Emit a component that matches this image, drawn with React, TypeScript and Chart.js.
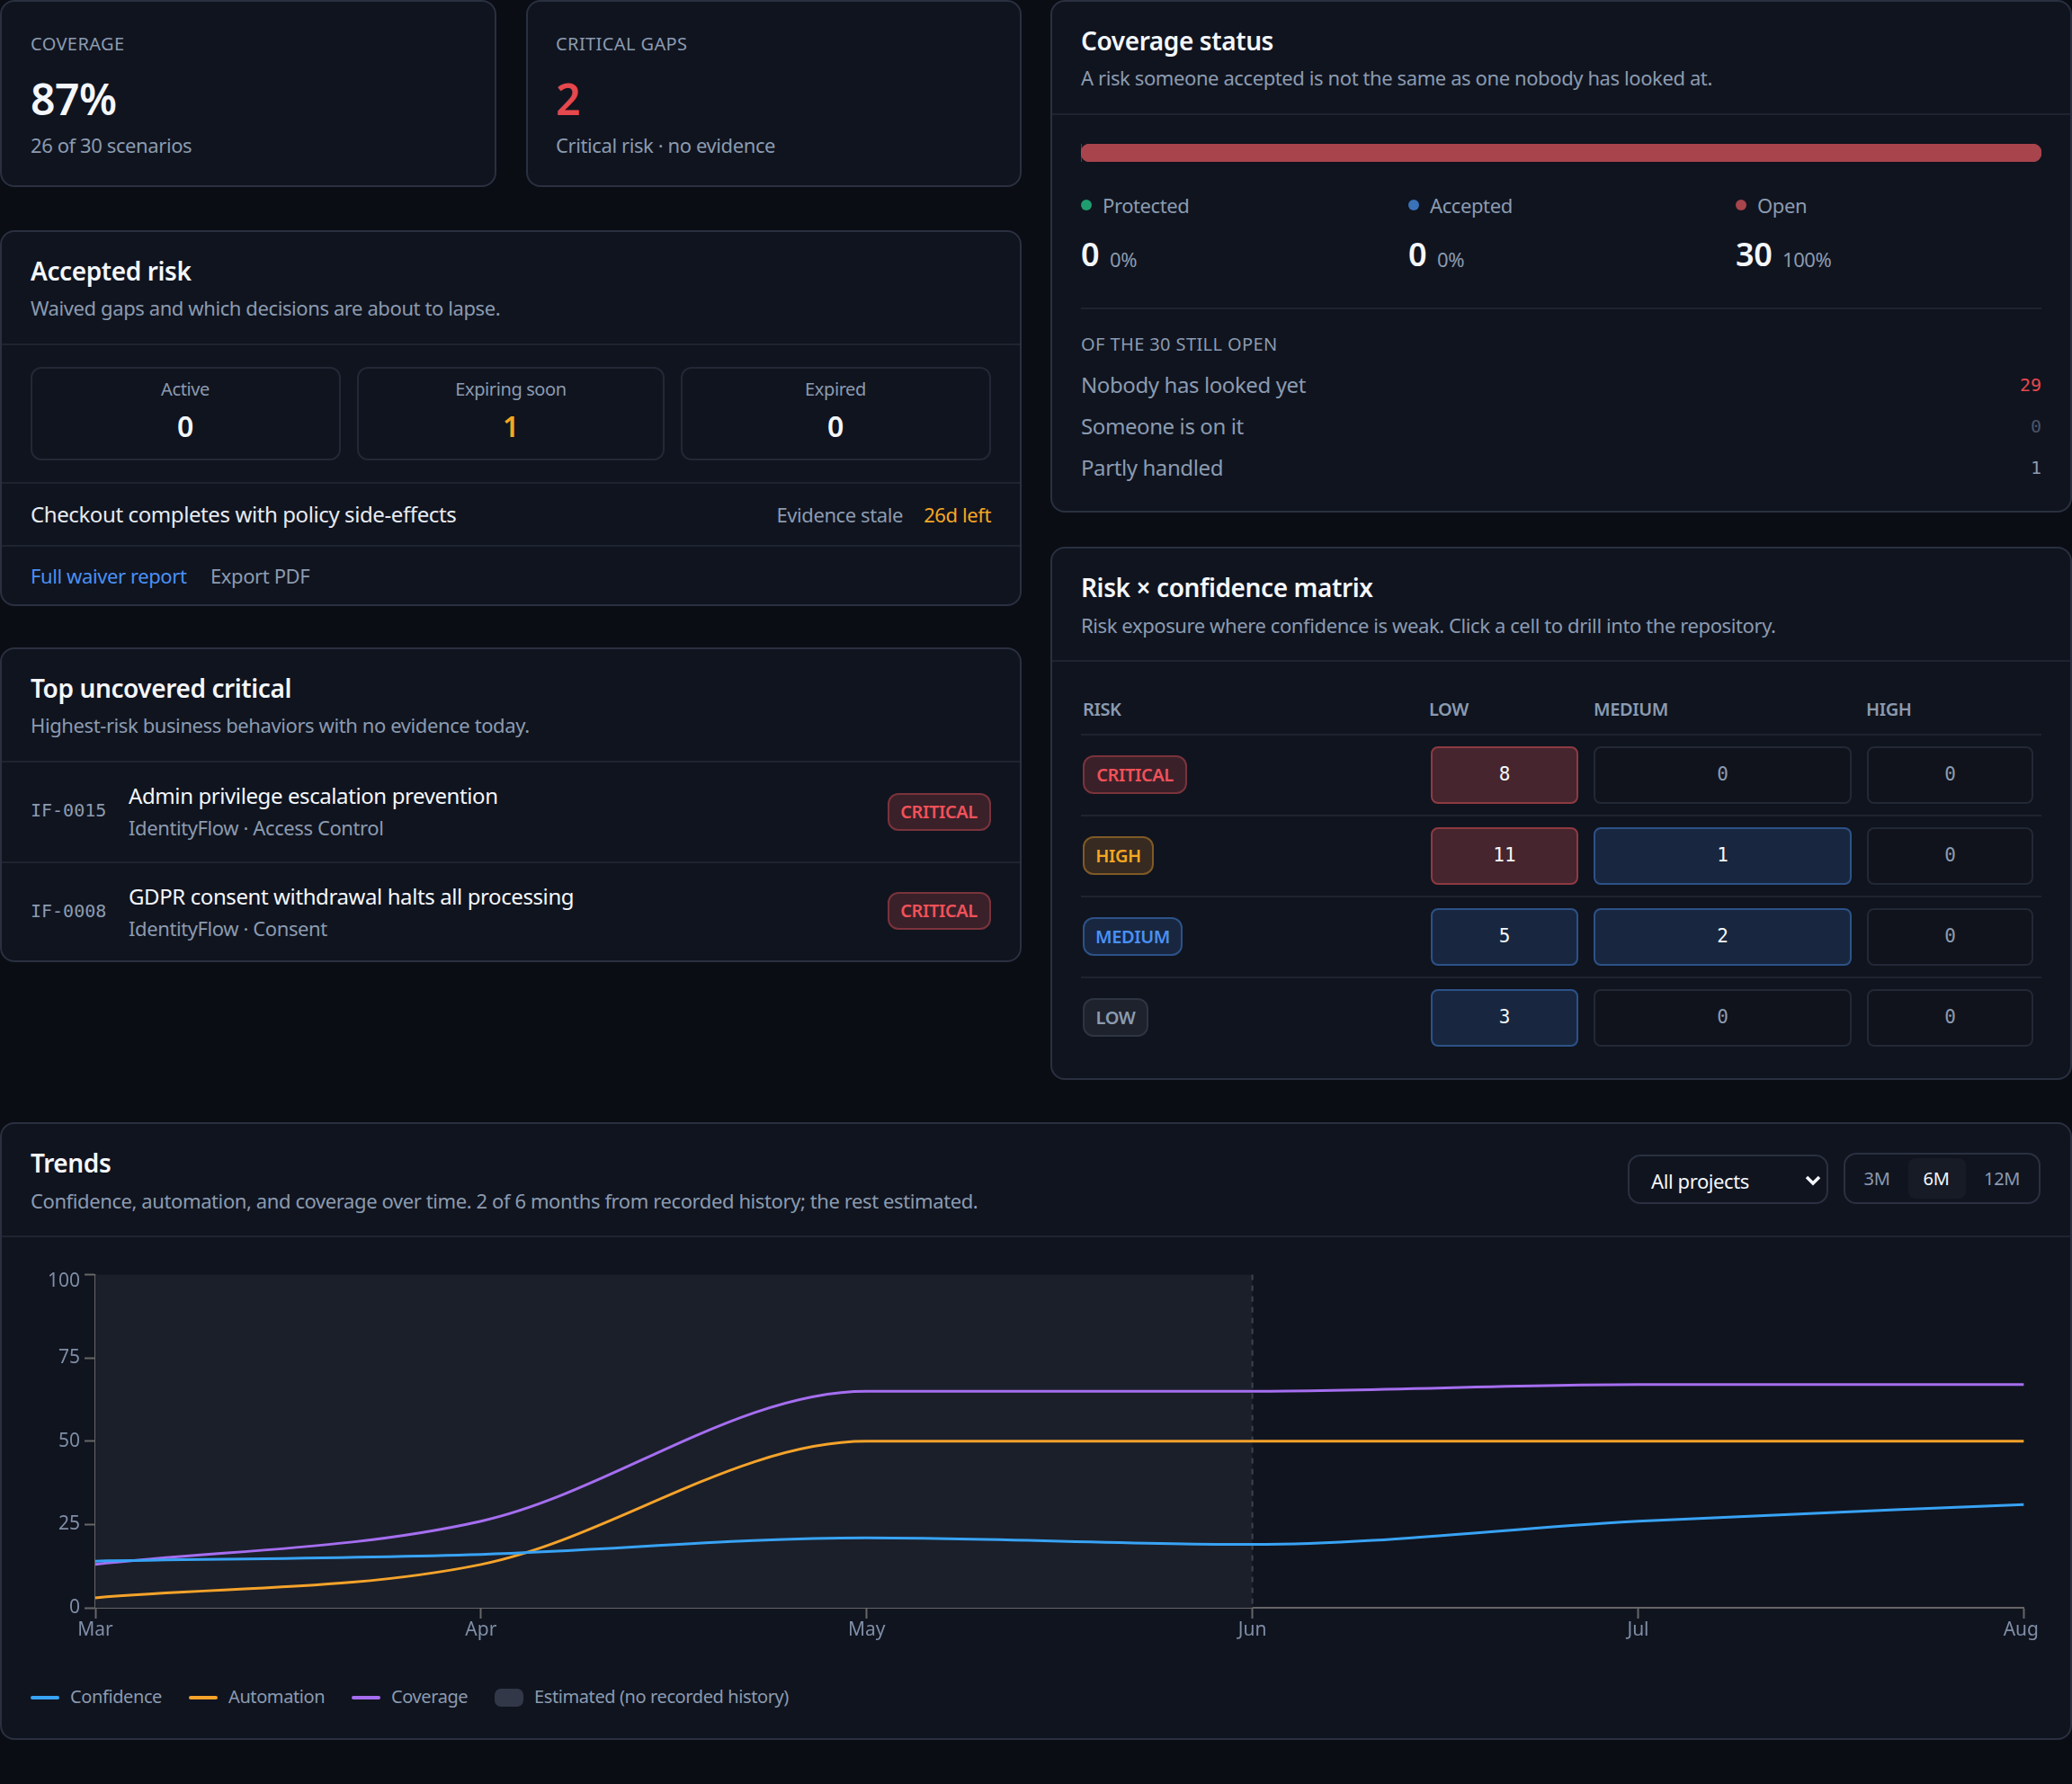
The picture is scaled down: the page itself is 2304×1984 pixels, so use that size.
import React, { useEffect, useRef } from "react";
import { Chart, registerables } from "chart.js";

Chart.register(...registerables);

const months = ["Mar", "Apr", "May", "Jun", "Jul", "Aug"];
const confidence = [14, 16, 21, 19, 26, 31];
const automation = [3, 13, 50, 50, 50, 50];
const coverage = [13, 26, 65, 65, 67, 67];
const yTicks = [0, 25, 50, 75, 100];
const estimatedUntil = "Jun";

const statusLabels = ["Protected", "Accepted", "Open"];
const statusValues = [0, 0, 30];
const statusPct = ["0%", "0%", "100%"];
const statusColors = ["#1f9d6f", "#3a72b8", "#a8444c"];

const openLabels = ["Nobody has looked yet", "Someone is on it", "Partly handled"];
const openValues = [29, 0, 1];

const riskLevels = ["CRITICAL", "HIGH", "MEDIUM", "LOW"];
const confidenceLevels = ["LOW", "MEDIUM", "HIGH"];
const matrixLow = [8, 11, 5, 3];
const matrixMedium = [0, 1, 2, 0];
const matrixHigh = [0, 0, 0, 0];

const FONT = '"Noto Sans", sans-serif';
const MONO = '"DejaVu Sans Mono", monospace';
const BORDER = "#2a3040";
const LINE = "#1e2330";
const MUTED = "#8b9bb0";
const WHITE = "#f4f7fb";
const RED = "#e5484d";
const ORANGE = "#f5a623";
const BLUE = "#4a90f5";

type TextProps = {
  x: number;
  y: number;
  size?: number;
  color?: string;
  weight?: number;
  right?: boolean;
  center?: boolean;
  mono?: boolean;
  spacing?: number;
  children: React.ReactNode;
};

// y is the vertical centre of the line
const T = ({ x, y, size = 22, color = MUTED, weight = 400, right, center, mono, spacing = -0.4, children }: TextProps) => (
  <div
    style={{
      position: "absolute",
      left: x,
      top: y,
      transform: `translate(${right ? "-100%" : center ? "-50%" : "0"}, -50%)`,
      fontFamily: mono ? MONO : FONT,
      fontSize: size,
      fontWeight: weight,
      color,
      letterSpacing: mono ? 0 : spacing,
      whiteSpace: "nowrap",
      lineHeight: 1.2,
    }}
  >
    {children}
  </div>
);

const Box = ({ x, y, w, h, bg = "#10141f", border = BORDER, radius = 16 }: any) => (
  <div
    style={{
      position: "absolute",
      left: x,
      top: y,
      width: w,
      height: h,
      boxSizing: "border-box",
      background: bg,
      border: `2px solid ${border}`,
      borderRadius: radius,
    }}
  />
);

const HLine = ({ x, y, w, color = LINE }: any) => (
  <div style={{ position: "absolute", left: x, top: y, width: w, height: 2, background: color }} />
);

const Badge = ({ x, y, w, h, label, color, bg, border }: any) => (
  <>
    <Box x={x} y={y} w={w} h={h} bg={bg} border={border} radius={12} />
    <T x={x + w / 2} y={y + h / 2} size={20} weight={600} color={color} center>
      {label}
    </T>
  </>
);

const badgeStyle: Record<string, any> = {
  CRITICAL: { color: "#f0525a", bg: "#3a2029", border: "#7a333b", w: 116 },
  HIGH: { color: "#f5a623", bg: "#372a21", border: "#7f5a25", w: 79 },
  MEDIUM: { color: "#4a90f5", bg: "#18273f", border: "#2c5288", w: 111 },
  LOW: { color: "#8b9bb0", bg: "#1e222d", border: "#2e3442", w: 73 },
};

// band and dashed line for the months with no recorded history
const estimatedBand = {
  id: "estimatedBand",
  beforeDatasetsDraw(chart: any) {
    const { ctx, chartArea, scales } = chart;
    const right = scales.x.getPixelForValue(months.indexOf(estimatedUntil));
    ctx.save();
    ctx.fillStyle = "#1b1f2a";
    ctx.fillRect(chartArea.left, chartArea.top, right - chartArea.left, chartArea.bottom - chartArea.top);
    ctx.strokeStyle = "#3d4352";
    ctx.lineWidth = 2;
    ctx.setLineDash([6, 6]);
    ctx.beginPath();
    ctx.moveTo(right, chartArea.top);
    ctx.lineTo(right, chartArea.bottom);
    ctx.stroke();
    ctx.restore();
  },
  afterUpdate(chart: any) {
    // keep the outer tick labels inside the chart box
    chart.scales.y.getLabelItems(chart.chartArea).forEach((item: any) => {
      if (item.label === "100") item.options.translation[1] += 7;
    });
    chart.scales.x.getLabelItems(chart.chartArea).forEach((item: any) => {
      if (item.label === "Aug") item.options.translation[0] -= 3;
    });
  },
};

const line = (label: string, data: number[], color: string) => ({
  label,
  data,
  borderColor: color,
  backgroundColor: color,
  borderWidth: 3,
  pointRadius: 0,
  cubicInterpolationMode: "monotone" as const,
  fill: false,
});

const TrendChart = () => {
  const canvasRef = useRef<HTMLCanvasElement>(null);
  useEffect(() => {
    if (!canvasRef.current) return;
    const tickFont = { family: FONT, size: 21 };
    const chart = new Chart(canvasRef.current, {
      type: "line",
      data: {
        labels: months,
        datasets: [
          line("Confidence", confidence, "#38a3f5"),
          line("Automation", automation, "#f5a32a"),
          line("Coverage", coverage, "#a56ef0"),
        ],
      },
      options: {
        animation: false,
        responsive: false,
        layout: { padding: { top: 16, right: 16 } },
        plugins: { legend: { display: false }, tooltip: { enabled: false } },
        scales: {
          x: {
            offset: false,
            grid: { drawOnChartArea: false, tickLength: 12, tickColor: "#666", tickWidth: 2 },
            border: { color: "#666", width: 2 },
            ticks: { color: "#7f8ea6", font: tickFont, padding: 0, maxRotation: 0, autoSkip: false },
            afterFit: (scale: any) => {
              scale.height = 40;
            },
          },
          y: {
            min: 0,
            max: 100,
            afterBuildTicks: (scale: any) => {
              scale.ticks = yTicks.map((value) => ({ value }));
            },
            grid: { drawOnChartArea: false, tickLength: 12, tickColor: "#666", tickWidth: 2 },
            border: { color: "#666", width: 2 },
            ticks: { color: "#7f8ea6", font: tickFont, padding: 5 },
            afterFit: (scale: any) => {
              scale.width = 72;
            },
          },
        },
      },
      plugins: [estimatedBand],
    });
    return () => chart.destroy();
  }, []);
  return <canvas ref={canvasRef} width={2236} height={428} style={{ position: "absolute", left: 34, top: 1400 }} />;
};

const StatusBar = () => {
  const canvasRef = useRef<HTMLCanvasElement>(null);
  useEffect(() => {
    if (!canvasRef.current) return;
    const chart = new Chart(canvasRef.current, {
      type: "bar",
      data: {
        labels: ["status"],
        datasets: statusLabels.map((label, i) => ({
          label,
          data: [statusValues[i]],
          backgroundColor: statusColors[i],
          borderRadius: 10,
          borderSkipped: false,
          barPercentage: 1,
          categoryPercentage: 1,
        })),
      },
      options: {
        indexAxis: "y",
        animation: false,
        responsive: false,
        plugins: { legend: { display: false }, tooltip: { enabled: false } },
        scales: {
          x: { display: false, stacked: true, min: 0, max: 30 },
          y: { display: false, stacked: true },
        },
      },
    });
    return () => chart.destroy();
  }, []);
  return <canvas ref={canvasRef} width={1068} height={20} style={{ position: "absolute", left: 1202, top: 160 }} />;
};

const colX = [1591, 1772, 2076];
const colW = [164, 287, 185];
const rowY = [830, 920, 1010, 1100];

const MatrixCell = ({ value, col, row }: { value: number; col: number; row: number }) => {
  const hot = value > 0 && col === 0 && row < 2;
  const warm = value > 0 && !hot;
  const bg = hot ? "#46252e" : warm ? "#18273f" : "#10131c";
  const border = hot ? "#8e3a42" : warm ? "#2c5288" : "#232836";
  return (
    <>
      <Box x={colX[col]} y={rowY[row]} w={colW[col]} h={64} bg={bg} border={border} radius={8} />
      <T x={colX[col] + colW[col] / 2} y={rowY[row] + 32} size={21} mono center color={value > 0 ? WHITE : MUTED}>
        {value}
      </T>
    </>
  );
};

const legendItems = [
  { label: "Confidence", color: "#38a3f5", x: 34 },
  { label: "Automation", color: "#f5a32a", x: 210 },
  { label: "Coverage", color: "#a56ef0", x: 391 },
];

export default function App() {
  useEffect(() => {
    document.body.style.margin = "0";
    document.body.style.background = "#0a0d14";
  }, []);

  return (
    <div style={{ position: "relative", width: 2304, height: 1984, background: "#0a0d14", overflow: "hidden" }}>
      {/* stat cards */}
      <Box x={0} y={0} w={552} h={208} />
      <T x={34} y={49} size={20} spacing={0.4}>COVERAGE</T>
      <T x={34} y={110} size={48} weight={600} color={WHITE}>87%</T>
      <T x={34} y={161}>26 of 30 scenarios</T>

      <Box x={585} y={0} w={551} h={208} />
      <T x={618} y={49} size={20} spacing={0.4}>CRITICAL GAPS</T>
      <T x={618} y={110} size={48} weight={600} color={RED}>2</T>
      <T x={618} y={161}>Critical risk · no evidence</T>

      {/* accepted risk */}
      <Box x={0} y={256} w={1136} h={418} />
      <T x={34} y={302} size={28} weight={600} color={WHITE}>Accepted risk</T>
      <T x={34} y={342}>Waived gaps and which decisions are about to lapse.</T>
      <HLine x={2} y={382} w={1132} />
      <Box x={34} y={408} w={345} h={104} radius={12} border="#232836" />
      <Box x={397} y={408} w={342} h={104} radius={12} border="#232836" />
      <Box x={757} y={408} w={345} h={104} radius={12} border="#232836" />
      <T x={206} y={433} size={20} center>Active</T>
      <T x={206} y={474} size={32} weight={600} color={WHITE} center>0</T>
      <T x={568} y={433} size={20} center>Expiring soon</T>
      <T x={568} y={474} size={32} weight={600} color={ORANGE} center>1</T>
      <T x={929} y={433} size={20} center>Expired</T>
      <T x={929} y={474} size={32} weight={600} color={WHITE} center>0</T>
      <HLine x={2} y={536} w={1132} />
      <T x={34} y={572} size={24} color="#e6ebf2">Checkout completes with policy side-effects</T>
      <T x={1004} y={572} right>Evidence stale</T>
      <T x={1102} y={572} color={ORANGE} right>26d left</T>
      <HLine x={2} y={606} w={1132} />
      <T x={34} y={640} color={BLUE}>Full waiver report</T>
      <T x={234} y={640}>Export PDF</T>

      {/* top uncovered */}
      <Box x={0} y={720} w={1136} h={350} />
      <T x={34} y={766} size={28} weight={600} color={WHITE}>Top uncovered critical</T>
      <T x={34} y={806}>Highest-risk business behaviors with no evidence today.</T>
      <HLine x={2} y={846} w={1132} />
      <T x={34} y={901} size={20} mono>IF-0015</T>
      <T x={143} y={885} size={24} color={WHITE}>Admin privilege escalation prevention</T>
      <T x={143} y={920}>IdentityFlow · Access Control</T>
      <Box x={987} y={882} w={115} h={42} bg="#3a2029" border="#7a333b" radius={12} />
      <T x={1044} y={903} size={20} weight={600} color="#f0525a" center>CRITICAL</T>
      <HLine x={2} y={958} w={1132} />
      <T x={34} y={1013} size={20} mono>IF-0008</T>
      <T x={143} y={997} size={24} color={WHITE}>GDPR consent withdrawal halts all processing</T>
      <T x={143} y={1032}>IdentityFlow · Consent</T>
      <Box x={987} y={992} w={115} h={42} bg="#3a2029" border="#7a333b" radius={12} />
      <T x={1044} y={1013} size={20} weight={600} color="#f0525a" center>CRITICAL</T>

      {/* coverage status */}
      <Box x={1168} y={0} w={1136} h={570} />
      <T x={1202} y={46} size={28} weight={600} color={WHITE}>Coverage status</T>
      <T x={1202} y={86}>A risk someone accepted is not the same as one nobody has looked at.</T>
      <HLine x={1170} y={126} w={1132} />
      <StatusBar />
      {statusLabels.map((label, i) => {
        const dotX = [1202, 1566, 1930][i];
        const pctX = [1234, 1598, 1982][i];
        return (
          <React.Fragment key={label}>
            <div style={{ position: "absolute", left: dotX, top: 222, width: 12, height: 12, borderRadius: 6, background: statusColors[i] }} />
            <T x={dotX + 24} y={228}>{label}</T>
            <T x={dotX} y={283} size={36} weight={600} color={WHITE}>{statusValues[i]}</T>
            <T x={pctX} y={288} size={22}>{statusPct[i]}</T>
          </React.Fragment>
        );
      })}
      <HLine x={1202} y={342} w={1068} />
      <T x={1202} y={383} size={20} spacing={0.4}>OF THE 30 STILL OPEN</T>
      {openLabels.map((label, i) => (
        <React.Fragment key={label}>
          <T x={1202} y={428 + i * 46} size={24}>{label}</T>
          <T x={2270} y={428 + i * 46} size={20} mono right color={[RED, "#4a5568", MUTED][i]}>{openValues[i]}</T>
        </React.Fragment>
      ))}

      {/* matrix */}
      <Box x={1168} y={608} w={1136} h={593} />
      <T x={1202} y={654} size={28} weight={600} color={WHITE}>Risk × confidence matrix</T>
      <T x={1202} y={695}>Risk exposure where confidence is weak. Click a cell to drill into the repository.</T>
      <HLine x={1170} y={734} w={1132} />
      <T x={1204} y={789} size={20} weight={600}>RISK</T>
      {confidenceLevels.map((label, i) => (
        <T key={label} x={[1589, 1772, 2075][i]} y={789} size={20} weight={600}>{label}</T>
      ))}
      <HLine x={1202} y={816} w={1068} />
      {riskLevels.map((risk, r) => (
        <React.Fragment key={risk}>
          <Badge x={1204} y={rowY[r] + 10} h={43} label={risk} {...badgeStyle[risk]} />
          <MatrixCell value={matrixLow[r]} col={0} row={r} />
          <MatrixCell value={matrixMedium[r]} col={1} row={r} />
          <MatrixCell value={matrixHigh[r]} col={2} row={r} />
          {r < 3 && <HLine x={1202} y={rowY[r] + 76} w={1068} />}
        </React.Fragment>
      ))}

      {/* trends */}
      <Box x={0} y={1248} w={2304} h={687} />
      <T x={34} y={1294} size={28} weight={600} color={WHITE}>Trends</T>
      <T x={34} y={1335}>Confidence, automation, and coverage over time. 2 of 6 months from recorded history; the rest estimated.</T>
      <HLine x={2} y={1374} w={2300} />
      <Box x={1810} y={1284} w={223} h={55} bg="#10141f" radius={14} />
      <T x={1836} y={1313} color={WHITE}>All projects</T>
      <svg style={{ position: "absolute", left: 2007, top: 1306 }} width="18" height="13" viewBox="0 0 18 13">
        <path d="M2 3 L9 10 L16 3" fill="none" stroke="#f4f7fb" strokeWidth="3.5" />
      </svg>
      <Box x={2050} y={1282} w={219} h={57} radius={14} />
      <div style={{ position: "absolute", left: 2122, top: 1288, width: 64, height: 45, borderRadius: 8, background: "#171b26" }} />
      <T x={2087} y={1311} size={20} center>3M</T>
      <T x={2153} y={1311} size={20} center color={WHITE}>6M</T>
      <T x={2226} y={1311} size={20} center>12M</T>
      <TrendChart />
      {legendItems.map((item) => (
        <React.Fragment key={item.label}>
          <div style={{ position: "absolute", left: item.x, top: 1886, width: 32, height: 4, borderRadius: 2, background: item.color }} />
          <T x={item.x + 44} y={1887} size={20}>{item.label}</T>
        </React.Fragment>
      ))}
      <div style={{ position: "absolute", left: 550, top: 1878, width: 32, height: 20, borderRadius: 7, background: "#323848" }} />
      <T x={594} y={1887} size={20}>Estimated (no recorded history)</T>
    </div>
  );
}
